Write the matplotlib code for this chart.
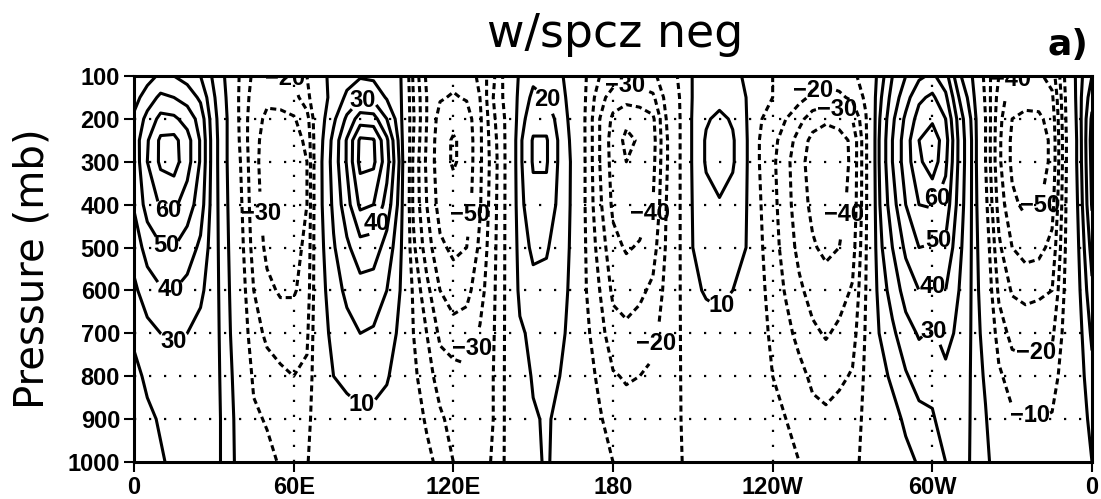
import numpy as np
import matplotlib
matplotlib.use("Agg")
import matplotlib.pyplot as plt

# ---------------- data ----------------
lons = list(range(0, 361, 5))
pressure = [100, 150, 200, 250, 300, 400, 500, 600, 700, 800, 900, 1000]

# one column (values at the pressure levels above) per longitude
columns = [
    [30, 36, 42, 44, 43, 41, 34, 28, 22, 17, 13, 10],        # 0
    [36, 45, 53, 59, 60, 54, 44, 35, 27, 22, 18, 15],        # 5
    [42, 52, 63, 72, 72, 61, 49, 39, 30, 25, 21, 19],        # 10
    [40, 50, 62, 73, 74, 62, 50, 40, 31, 26, 23, 22],        # 15
    [36, 46, 56, 64, 64, 55, 45, 37, 30, 26, 24, 23],        # 20
    [30, 38, 46, 49, 49, 45, 38, 32, 27, 24, 23, 23],        # 25
    [18, 21, 23, 24, 24, 24, 24, 24, 24, 24, 24, 24],        # 30
    [8, 9, 10, 10, 10, 11, 12, 13, 14, 15, 16, 16],          # 35
    [-12, -13, -13, -12, -10, -8, -6, -4, -2, 2, 4, 5],      # 40
    [-22, -24, -26, -27, -27, -26, -24, -20, -16, -12, -8, -4],   # 45
    [-24, -28, -32, -34, -35, -34, -32, -28, -22, -16, -11, -7],  # 50
    [-20, -26, -33, -36, -36, -36, -34, -31, -25, -18, -14, -11], # 55
    [-18, -24, -31, -34, -35, -35, -33, -31, -25, -20, -15, -12], # 60
    [-10, -14, -24, -28, -30, -30, -28, -26, -22, -18, -14, -11], # 65
    [8, 6, 6, 7, 8, 8, 7, 6, 5, 3, 1, 0],                    # 70
    [12, 13, 18, 23, 24, 22, 19, 16, 13, 10, 6, 2],          # 75
    [16, 22, 32, 41, 41, 36, 28, 22, 17, 12, 7, 3],          # 80
    [19, 28, 45, 62, 63, 52, 36, 26, 20, 14, 8, 4],          # 85
    [18, 27, 44, 61, 62, 50, 35, 25, 19, 13, 8, 4],          # 90
    [15, 19, 30, 42, 44, 36, 26, 20, 15, 11, 6, 2],          # 95
    [12, 13, 14, 16, 18, 16, 13, 10, 8, 5, 2, -1],           # 100
    [-22, -20, -19, -20, -22, -22, -18, -12, -10, -8, -6, -5],    # 105
    [-42, -40, -40, -41, -42, -40, -35, -27, -20, -15, -11, -8],  # 110
    [-45, -49, -54, -56, -56, -54, -48, -40, -32, -25, -18, -12], # 115
    [-47, -51, -57, -61, -61, -56, -52, -45, -36, -26, -24, -20], # 120
    [-45, -49, -55, -57, -57, -55, -50, -43, -35, -28, -26, -24], # 125
    [-38, -40, -42, -42, -42, -41, -38, -34, -29, -26, -25, -24], # 130
    [-22, -20, -22, -24, -25, -24, -23, -22, -21, -20, -20, -19], # 135
    [-5, -6, -8, -8, -8, -8, -8, -8, -8, -8, -8, -8],        # 140
    [12, 14, 16, 18, 18, 17, 15, 13, 8, 5, 3, 2],            # 145
    [18, 22, 26, 31, 31, 27, 22, 17, 13, 11, 9, 8],          # 150
    [16, 20, 26, 31, 31, 27, 21, 17, 14, 12, 11, 11],        # 155
    [12, 14, 16, 18, 18, 17, 15, 13, 12, 10, 8, 7],          # 160
    [4, 5, 6, 7, 8, 8, 8, 8, 7, 6, 5, 4],                    # 165
    [-10, -11, -12, -12, -12, -12, -11, -10, -8, -6, -5, -4],     # 170
    [-20, -26, -30, -30, -30, -28, -24, -20, -16, -12, -9, -7],   # 175
    [-24, -35, -42, -45, -44, -42, -37, -32, -26, -19, -14, -10], # 180
    [-25, -36, -48, -52, -50, -47, -41, -34, -28, -21, -16, -13], # 185
    [-24, -35, -46, -49, -48, -45, -39, -32, -26, -20, -16, -14], # 190
    [-22, -32, -42, -44, -43, -40, -34, -28, -23, -18, -15, -13], # 195
    [-15, -17, -20, -21, -21, -20, -19, -17, -15, -13, -12, -12], # 200
    [-9, -10, -11, -11, -11, -11, -11, -11, -11, -11, -11, -11],  # 205
    [11, 11, 12, 12, 12, 11, 10, 8, 4, 1, -2, -6],           # 210
    [14, 16, 19, 21, 21, 17, 14, 11, 6, 3, 0, -3],           # 215
    [14, 17, 22, 26, 25, 19, 15, 12, 7, 4, 1, -2],           # 220
    [12, 15, 19, 21, 21, 17, 14, 10, 5, 2, -1, -4],          # 225
    [9, 10, 11, 12, 12, 11, 10, 7, 3, 0, -3, -6],            # 230
    [-5, -7, -9, -10, -10, -9, -8, -7, -6, -6, -5, -5],      # 235
    [-10, -10, -14, -17, -18, -17, -16, -14, -12, -10, -8, -6],   # 240
    [-12, -13, -20, -25, -27, -26, -24, -21, -17, -13, -10, -8],  # 245
    [-14, -17, -27, -34, -37, -36, -33, -28, -23, -17, -13, -10], # 250
    [-16, -22, -35, -43, -44, -42, -39, -34, -28, -22, -17, -13], # 255
    [-16, -24, -38, -46, -47, -45, -42, -36, -31, -24, -18, -13], # 260
    [-15, -22, -36, -44, -45, -43, -40, -34, -28, -22, -16, -12], # 265
    [-12, -18, -30, -38, -38, -37, -34, -29, -24, -19, -14, -11], # 270
    [-6, -8, -11, -12, -12, -12, -11, -10, -9, -8, -8, -9],  # 275
    [14, 17, 19, 20, 20, 19, 17, 14, 10, 6, 2, -2],          # 280
    [30, 34, 38, 40, 40, 36, 30, 24, 18, 12, 6, 2],          # 285
    [40, 46, 52, 55, 55, 50, 42, 34, 26, 19, 12, 7],         # 290
    [48, 58, 64, 70, 68, 60, 50, 40, 31, 24, 17, 11],        # 295
    [52, 62, 68, 77, 76, 61, 49, 39, 29, 23, 19, 16],        # 300
    [44, 52, 60, 64, 62, 56, 48, 40, 33, 28, 24, 20],        # 305
    [22, 30, 36, 38, 38, 36, 33, 30, 28, 26, 25, 24],        # 310
    [10, 14, 18, 19, 19, 19, 19, 19, 19, 19, 19, 19],        # 315
    [-14, -12, -10, -10, -10, -7, -3, 0, 4, 8, 11, 13],      # 320
    [-30, -34, -37, -38, -38, -34, -28, -22, -15, -8, -2, 3],     # 325
    [-40, -46, -50, -52, -52, -48, -40, -31, -23, -15, -8, -2],   # 330
    [-44, -47, -52, -56, -56, -52, -44, -33, -24, -16, -9, -4],   # 335
    [-42, -46, -52, -55, -55, -51, -43, -32, -23, -16, -10, -5],  # 340
    [-36, -42, -46, -48, -48, -44, -37, -30, -22, -15, -9, -4],   # 345
    [-8, -10, -11, -12, -12, -11, -10, -8, -6, -4, -2, 0],   # 350
    [16, 16, 15, 14, 14, 12, 10, 8, 6, 5, 4, 4],             # 355
    [30, 36, 42, 44, 43, 41, 34, 28, 22, 17, 13, 10],        # 360
]

neg_levels = [-70, -60, -50, -40, -30, -20, -10]
pos_levels = [10, 20, 30, 40, 50, 60, 70]

xtick_pos = [0, 60, 120, 180, 240, 300, 360]
xtick_labels = ['0', '60E', '120E', '180', '120W', '60W', '0']
ytick_pos = [100, 200, 300, 400, 500, 600, 700, 800, 900, 1000]
grid_p = [200, 300, 400, 500, 600, 700, 800, 900]
grid_lon = [60, 120, 180, 240, 300]

pos_label_spots = [(13, 408), (13, 480), (13.5, 600), (17, 740),
                   (86, 160), (88, 436), (86, 879), (153, 160),
                   (223, 645), (300.6, 382), (300.6, 467), (300.6, 560),
                   (303.6, 680)]
neg_label_spots = [(55.6, 121), (56, 417), (121, 420), (126, 732),
                   (184.5, 128), (187, 405), (189, 715), (255, 130),
                   (264, 185), (261.5, 417), (335.6, 121), (337.5, 396),
                   (337.5, 708), (339, 862)]

# ---------------- plotting ----------------
plt.rcParams['font.family'] = ['Liberation Sans', 'DejaVu Sans']
plt.rcParams['font.weight'] = 'bold'

field = np.array(columns, dtype=float).T

fig = plt.figure(figsize=(11.01, 4.99), dpi=100)
ax = fig.add_axes([134 / 1101, 37 / 499, 958 / 1101, 386 / 499])

dot = (0, (1, 5.75))
for p in grid_p:
    ax.axhline(p, color='black', lw=1.6, ls=dot, zorder=0.5)
for lo in grid_lon:
    ax.axvline(lo, color='black', lw=1.6, ls=dot, zorder=0.5)

cs_pos = ax.contour(lons, pressure, field, levels=pos_levels,
                    colors='black', linewidths=2.2)
cs_neg = ax.contour(lons, pressure, field, levels=neg_levels,
                    colors='black', linewidths=2.2)
cs_neg.set_linestyle((0, (2.0, 1.3)))


def fmt(v):
    return f"{v:.0f}".replace('-', '\u2212')


ax.clabel(cs_pos, fontsize=17, fmt=fmt, inline=True,
          inline_spacing=2, manual=pos_label_spots)
ax.clabel(cs_neg, fontsize=17, fmt=fmt, inline=True,
          inline_spacing=2, manual=neg_label_spots)
for t in list(cs_pos.labelTexts) + list(cs_neg.labelTexts):
    t.set_rotation(0)
    t.set_fontweight('bold')

ax.set_xlim(0, 360)
ax.set_ylim(1000, 100)
ax.set_xticks(xtick_pos)
ax.set_xticklabels(xtick_labels)
ax.set_yticks(ytick_pos)
ax.set_yticklabels([str(v) for v in ytick_pos])
for lab in ax.get_xticklabels() + ax.get_yticklabels():
    lab.set_fontfamily(['Liberation Sans Narrow', 'Liberation Sans'])
    lab.set_fontweight('bold')
    lab.set_fontsize(17)
ax.tick_params(direction='out', length=7, width=1.5, pad=3)
for s in ax.spines.values():
    s.set_linewidth(2.2)

fig.text(33 / 1101, 1 - 269 / 499, 'Pressure (mb)', rotation=90,
         ha='center', va='center', fontsize=29, family='DejaVu Sans',
         weight='normal')
fig.text(615 / 1101, 1 - 47 / 499, 'w/spcz neg', ha='center',
         va='baseline', fontsize=33, family='DejaVu Sans', weight='normal')
fig.text(1088 / 1101, 1 - 55 / 499, 'a)', ha='right', va='baseline',
         fontsize=26, family='DejaVu Sans', weight='bold')

fig.savefig('out.png', dpi=100)
